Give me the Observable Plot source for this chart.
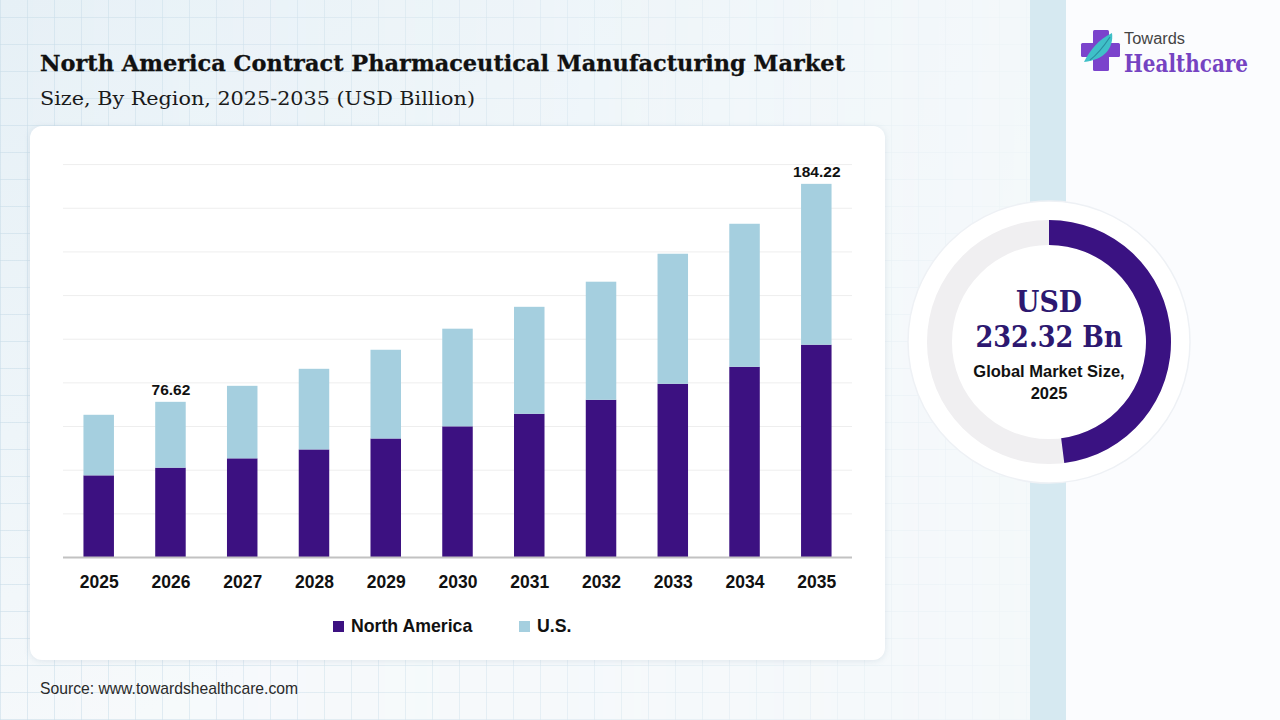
<!DOCTYPE html>
<html><head><meta charset="utf-8">
<script src="https://cdn.jsdelivr.net/npm/d3@7"></script>
<script src="https://cdn.jsdelivr.net/npm/@observablehq/plot@0.6"></script>
<style>
html,body{margin:0;padding:0;}
body{width:1280px;height:720px;overflow:hidden;position:relative;font-family:"Liberation Sans",Arial,sans-serif;
 background:#f5f9fb;}
#bg{position:absolute;left:0;top:0;width:1030px;height:720px;
 background:
  repeating-linear-gradient(90deg, rgba(200,220,232,0.55) 0 1px, transparent 1px 27px),
  repeating-linear-gradient(0deg, rgba(200,220,232,0.55) 0 1px, transparent 1px 27px),
  linear-gradient(160deg,#e6f0f6 0%,#eef5f9 40%,#f6f9fb 70%);
 -webkit-mask-image: linear-gradient(90deg, rgba(0,0,0,1) 0%, rgba(0,0,0,0.6) 60%, rgba(0,0,0,0.15) 100%);}
#strip{position:absolute;left:1030px;top:0;width:36px;height:720px;background:#d6e9f1;}
#rightpane{position:absolute;left:1066px;top:0;width:214px;height:720px;background:#fbfcfe;}
#card{position:absolute;left:30px;top:126px;width:855px;height:534px;background:#fff;border-radius:12px;
 box-shadow:0 1px 6px rgba(120,150,170,0.18);}
#chart{position:absolute;left:30px;top:140px;}
#chart svg text{font-family:"Liberation Sans",Arial,sans-serif;}
#legend{position:absolute;left:0;top:614px;width:100%;height:24px;}
.lg{position:absolute;top:0;height:24px;display:flex;align-items:center;font-family:"Liberation Sans",Arial,sans-serif;font-weight:bold;font-size:17.7px;color:#111;}
.sw{width:11px;height:11px;margin-right:7px;}
#source{position:absolute;left:40px;top:680px;font-size:15.7px;color:#2a2a2a;font-family:"Liberation Sans",Arial,sans-serif;}
svg.abs{position:absolute;left:0;top:0;}
</style></head>
<body>
<div id="bg"></div>
<div id="strip"></div>
<div id="rightpane"></div>
<div id="card"></div>
<svg class="abs" width="1280" height="125" id="head">
  <text x="40" y="71" font-family="DejaVu Serif" font-weight="bold" font-size="22.5" fill="#111" stroke="#111" stroke-width="0.3" textLength="805" lengthAdjust="spacingAndGlyphs">North America Contract Pharmaceutical Manufacturing Market</text>
  <text x="40" y="105" font-family="DejaVu Serif" font-size="19" fill="#1a1a1a" textLength="435" lengthAdjust="spacingAndGlyphs">Size, By Region, 2025-2035 (USD Billion)</text>
  <g id="logo">
    <rect x="1093" y="30" width="16" height="41" rx="1.5" fill="#7b43cc"/>
    <rect x="1081" y="43" width="39" height="14" rx="1.5" fill="#7b43cc"/>
    <path d="M1084,62 C1090,50 1098,40 1112,33 C1114,48 1104,60 1084,62 Z" fill="#3fc0c8"/>
    <path d="M1090,60 C1098,54 1104,46 1110,37" stroke="#2a8fa0" stroke-width="1.2" fill="none"/>
    <text x="1124" y="44" font-family="Liberation Sans" font-size="16" fill="#444" textLength="61" lengthAdjust="spacingAndGlyphs">Towards</text>
    <text x="1124" y="72" font-family="DejaVu Serif" font-weight="bold" font-size="24" fill="#7543c2" textLength="124" lengthAdjust="spacingAndGlyphs">Healthcare</text>
  </g>
</svg>
<div id="chart"></div>
<div id="legend"></div>
<div id="source">Source: www.towardshealthcare.com</div>
<svg class="abs" width="1280" height="720" id="donut" style="pointer-events:none"></svg>
<script>
// ---- data ----
const years = ["2025","2026","2027","2028","2029","2030","2031","2032","2033","2034","2035"];
const northAmerica = [40.3, 44.1, 48.7, 53.1, 58.5, 64.5, 70.7, 77.6, 85.5, 93.9, 104.8];
const usValues     = [29.9, 32.5, 35.8, 39.8, 43.8, 48.2, 52.8, 58.3, 64.2, 70.6, 79.4];
const seriesNames = ["North America", "U.S."];
const seriesColors = ["#3c1181", "#a5cfdf"];
const totalLabels = {"2026": "76.62", "2035": "184.22"};
const gridTicks = [21.55, 43.1, 64.65, 86.2, 107.75, 129.3, 150.85, 172.4, 193.95];
const donutShare = [0.48];
const donutTexts = ["USD", "232.32 Bn", "Global Market Size,", "2025"];

// ---- chart ----
const rows = years.flatMap((y, i) => [
  {year: y, series: seriesNames[0], value: northAmerica[i]},
  {year: y, series: seriesNames[1], value: usValues[i]}
]);
const totals = years.map((y, i) => ({year: y, total: northAmerica[i] + usValues[i], label: totalLabels[y]}))
  .filter(d => d.label);

const chart = Plot.plot({
  width: 855, height: 457,
  marginLeft: 33, marginRight: 33, marginTop: 24, marginBottom: 40,
  style: {background: "transparent", fontFamily: "Liberation Sans, Arial, sans-serif", overflow: "visible"},
  x: {domain: years, paddingInner: 0.575, paddingOuter: 0.285, round: false, label: null, axis: null},
  y: {domain: [0, 194], axis: null},
  color: {domain: seriesNames, range: seriesColors},
  marks: [
    Plot.ruleY(gridTicks, {stroke: "#eeeeee", strokeWidth: 1}),
    Plot.barY(rows, {x: "year", y: "value", fill: "series"}),
    Plot.ruleY([0], {stroke: "#c2c2c2", strokeWidth: 2}),
    Plot.text(totals, {x: "year", y: "total", text: "label", dy: -12, fontSize: 15.5, fontWeight: "bold", fill: "#111"}),
    Plot.axisX({tickSize: 0, tickPadding: 18, fontSize: 17.5, fontWeight: "bold", fill: "#111", label: null})
  ]
});
document.getElementById("chart").appendChild(chart);

// ---- legend ----
const legend = document.getElementById("legend");
const legendX = [333, 519];
seriesNames.forEach((name, i) => {
  const el = document.createElement("div");
  el.className = "lg";
  el.style.left = legendX[i] + "px";
  el.innerHTML = `<span class="sw" style="background:${seriesColors[i]}"></span>${name}`;
  legend.appendChild(el);
});

// ---- donut ----
const svg = d3.select("#donut");
const cx = 1049, cy = 342;
const g = svg.append("g").attr("transform", `translate(${cx},${cy})`);
g.append("circle").attr("r", 141).attr("fill", "#ffffff").attr("stroke", "#eef1f5").attr("stroke-width", 1.5);
g.append("path").attr("d", d3.arc()({innerRadius: 97, outerRadius: 122, startAngle: 0, endAngle: 2 * Math.PI})).attr("fill", "#f0eff1");
g.append("path").attr("d", d3.arc()({innerRadius: 97, outerRadius: 122, startAngle: 0, endAngle: 2 * Math.PI * donutShare[0]})).attr("fill", "#3a1282");
g.append("text").attr("y", -41).attr("text-anchor", "middle").attr("dominant-baseline", "central")
  .attr("font-family", "DejaVu Serif").attr("font-weight", "bold").attr("font-size", 30).attr("fill", "#2d1870")
  .attr("textLength", 66).attr("lengthAdjust", "spacingAndGlyphs").text(donutTexts[0]);
g.append("text").attr("y", -6).attr("text-anchor", "middle").attr("dominant-baseline", "central")
  .attr("font-family", "DejaVu Serif").attr("font-weight", "bold").attr("font-size", 30).attr("fill", "#2d1870")
  .attr("textLength", 147).attr("lengthAdjust", "spacingAndGlyphs").text(donutTexts[1]);
g.append("text").attr("y", 29).attr("text-anchor", "middle").attr("dominant-baseline", "central")
  .attr("font-family", "Liberation Sans").attr("font-weight", "bold").attr("font-size", 16.5).attr("fill", "#111")
  .text(donutTexts[2]);
g.append("text").attr("y", 51).attr("text-anchor", "middle").attr("dominant-baseline", "central")
  .attr("font-family", "Liberation Sans").attr("font-weight", "bold").attr("font-size", 16.5).attr("fill", "#111")
  .text(donutTexts[3]);
</script>
</body></html>
